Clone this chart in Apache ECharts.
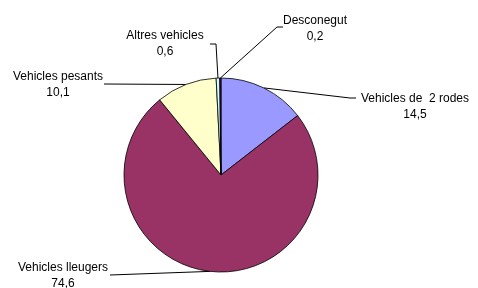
<!DOCTYPE html>
<html><head><meta charset="utf-8">
<script src="https://cdn.jsdelivr.net/npm/echarts@6/dist/echarts.min.js"></script>
<style>html,body{margin:0;padding:0;background:#fff}#c{width:478px;height:288px}</style>
</head><body><div id="c"></div>
<script>
const categories = ['Vehicles de  2 rodes', 'Vehicles lleugers', 'Vehicles pesants', 'Altres vehicles', 'Desconegut'];
const values = [14.5, 74.6, 10.1, 0.6, 0.2];
const colors = ['#9999FF', '#993366', '#FFFFCC', '#CCFFFF', '#660066'];
// label placement: [centerX, topY, line bend points]
const labelPlaces = [
  {x: 415, y: 91, pts: [[350, 98], [356, 98]]},
  {x: 63, y: 260, pts: [[110, 275]]},
  {x: 58, y: 69, pts: [[104, 84]]},
  {x: 165, y: 28, pts: [[216, 44], [210, 44]]},
  {x: 315, y: 13, pts: [[277, 27], [283, 27]]}
];
const chart = echarts.init(document.getElementById('c'));
chart.setOption({
  backgroundColor: '#fff',
  animation: false,
  series: [{
    type: 'pie',
    center: [221, 175],
    radius: 97,
    startAngle: 90,
    clockwise: true,
    avoidLabelOverlap: false,
    data: categories.map((n, i) => ({name: n, value: values[i], itemStyle: {color: colors[i]}})),
    itemStyle: {borderColor: '#000', borderWidth: 0.8},
    label: {
      show: true,
      color: '#000',
      fontFamily: 'Liberation Sans, Arial, sans-serif',
      fontSize: 12,
      lineHeight: 16,
      align: 'center',
      formatter: p => p.name + '\n' + String(p.value).replace('.', ',')
    },
    labelLine: {show: true, lineStyle: {color: '#000', width: 1}},
    labelLayout: function (params) {
      const lp = labelPlaces[params.dataIndex];
      const start = params.labelLinePoints ? params.labelLinePoints[0] : [0, 0];
      return {
        x: lp.x,
        y: lp.y,
        align: 'center',
        verticalAlign: 'top',
        labelLinePoints: [start].concat(lp.pts)
      };
    }
  }]
});
</script></body></html>
